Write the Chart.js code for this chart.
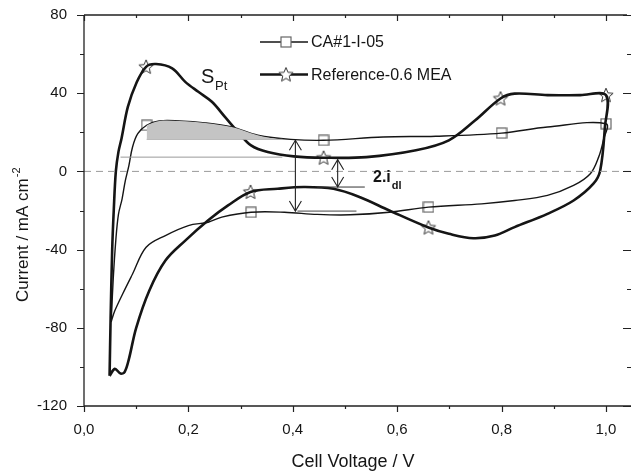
<!DOCTYPE html>
<html>
<head>
<meta charset="utf-8">
<script src="https://cdn.jsdelivr.net/npm/chart.js@4.4.1/dist/chart.umd.min.js"></script>
<style>
  html, body { margin: 0; padding: 0; background: #fff; }
  canvas { display: block; }
</style>
</head>
<body>
<canvas id="cv-chart" width="638" height="475"></canvas>
<script>
// Reference-0.6 MEA loop (anodic sweep then cathodic sweep)
const refV = [0.049, 0.051, 0.054, 0.057, 0.061, 0.066, 0.072, 0.084, 0.1, 0.119, 0.138, 0.169, 0.194, 0.219, 0.245, 0.27, 0.295, 0.32, 0.352, 0.402, 0.459, 0.541, 0.636, 0.699, 0.749, 0.798, 0.825, 0.888, 0.951, 1.0,
              0.998, 0.989, 0.976, 0.938, 0.888, 0.825, 0.787, 0.746, 0.699, 0.66, 0.585, 0.529, 0.478, 0.421, 0.371, 0.319, 0.276, 0.238, 0.194, 0.156, 0.125, 0.1, 0.086, 0.078, 0.07, 0.059, 0.049];
const refI = [-104.6, -75, -40, -20, 0, 10, 17, 33, 45, 53.5, 54.9, 52.7, 45.8, 40.7, 35.6, 27.9, 20.2, 13.3, 9.9, 7.7, 7.0, 7.3, 10.8, 15.9, 26, 37.3, 39.8, 39, 39, 39,
              22.7, 0.5, -6.3, -14.9, -21.7, -28.5, -32.8, -34.2, -31.9, -28.7, -20, -13.2, -8.9, -8, -8.9, -10.5, -17.4, -25, -35.4, -45.6, -61, -80, -96, -102.5, -103.4, -101, -104.6];

// CA#1-I-05 loop
const caV = [0.052, 0.056, 0.061, 0.066, 0.073, 0.079, 0.086, 0.093, 0.103, 0.12, 0.144, 0.182, 0.232, 0.283, 0.333, 0.396, 0.459, 0.573, 0.674, 0.8, 0.888, 1.0,
             0.995, 0.986, 0.97, 0.938, 0.888, 0.825, 0.762, 0.66, 0.585, 0.51, 0.447, 0.384, 0.32, 0.264, 0.238, 0.2, 0.156, 0.119, 0.093, 0.074, 0.059, 0.052];
const caI = [-77, -55, -35, -22, -14, -5, 3, 12.5, 19.3, 23.6, 25.8, 25.8, 24.8, 22.7, 18.5, 16.4, 15.9, 17.6, 18.0, 19.6, 22.7, 24.4,
             15.9, 7.3, -1.2, -7.2, -12.3, -14.9, -16.6, -18.3, -20.9, -22.2, -22, -20.9, -20.9, -23.4, -26, -27.7, -32.8, -38.8, -52.5, -62.7, -71.3, -77];

// marker positions
const refStarV = [0.119, 0.459, 0.798, 1.0, 0.66, 0.319];
const refStarI = [53.5, 7.0, 37.3, 39, -28.7, -10.5];
const caSquareV = [0.12, 0.459, 0.8, 1.0, 0.66, 0.32];
const caSquareI = [23.6, 15.9, 19.6, 24.4, -18.3, -20.9];

// shaded S_Pt area (CA anodic part above the baseline)
const shadeV = [0.12, 0.144, 0.182, 0.232, 0.283, 0.333, 0.371];
const shadeI = [23.6, 25.8, 25.8, 24.8, 22.7, 18.5, 16.4];
const shadeBase = 16.4;

// horizontal guide lines
const levelI = [16.4, 7.3, -20.3, -8];
const levelFrom = [0.12, 0.07, 0.409, 0.447];
const levelTo = [0.38, 0.38, 0.522, 0.538];
const levelColor = ['#aaa', '#999', '#444', '#333'];

// double arrows
const arrowV = [0.405, 0.486];
const arrowTop = [15.9, 6];
const arrowBottom = [-20.3, -8];

const xMin = 0, xMax = 1.048;
const yMin = -120, yMax = 80;

const FONT = '"Liberation Sans", Arial, sans-serif';
const INK = '#151515';

function toPts(vs, is) {
    return vs.map((v, k) => ({ x: v, y: is[k] }));
}

// five point star marker
function makeStar(r) {
    const c = document.createElement('canvas');
    const s = Math.ceil(r * 2 + 3);
    c.width = s; c.height = s;
    const g = c.getContext('2d');
    g.translate(s / 2, s / 2 + 0.5);
    g.beginPath();
    for (let k = 0; k < 10; k++) {
        const rad = k % 2 ? r * 0.45 : r;
        const a = -Math.PI / 2 + k * Math.PI / 5;
        g.lineTo(rad * Math.cos(a), rad * Math.sin(a));
    }
    g.closePath();
    g.fillStyle = '#fff';
    g.fill();
    g.lineWidth = 1;
    g.strokeStyle = '#333';
    g.stroke();
    return c;
}

function makeSquare(size) {
    const c = document.createElement('canvas');
    c.width = size + 2; c.height = size + 2;
    const g = c.getContext('2d');
    g.fillStyle = '#fff';
    g.fillRect(1, 1, size, size);
    g.lineWidth = 1.2;
    g.strokeStyle = '#666';
    g.strokeRect(1, 1, size, size);
    return c;
}

const starImg = makeStar(7.5);
const squareImg = makeSquare(10);

const datasets = [];

// shaded area
datasets.push({
    data: toPts(shadeV, shadeI),
    borderWidth: 0,
    borderColor: 'rgba(0,0,0,0)',
    backgroundColor: '#c4c4c4',
    fill: { value: shadeBase },
    pointRadius: 0,
    tension: 0.35
});

// guide lines
levelI.forEach((lv, k) => {
    datasets.push({
        data: [{ x: levelFrom[k], y: lv }, { x: levelTo[k], y: lv }],
        borderColor: levelColor[k],
        borderWidth: 1,
        pointRadius: 0,
        fill: false
    });
});

// zero line
datasets.push({
    data: [{ x: xMin, y: 0 }, { x: xMax, y: 0 }],
    borderColor: '#9a9a9a',
    borderWidth: 1,
    borderDash: [7, 5],
    pointRadius: 0,
    fill: false
});

// curves
datasets.push({
    data: toPts(caV, caI),
    borderColor: INK,
    borderWidth: 1.4,
    pointRadius: 0,
    tension: 0.35,
    fill: false
});
datasets.push({
    data: toPts(refV, refI),
    borderColor: INK,
    borderWidth: 2.6,
    pointRadius: 0,
    tension: 0.35,
    fill: false
});

// markers
datasets.push({
    data: toPts(caSquareV, caSquareI),
    showLine: false,
    pointStyle: squareImg,
    pointRadius: 6,
    fill: false
});
datasets.push({
    data: toPts(refStarV, refStarI),
    showLine: false,
    pointStyle: starImg,
    pointRadius: 6,
    fill: false
});

function arrowHead(ctx, x, y, dir) {
    ctx.beginPath();
    ctx.moveTo(x - 6, y + dir * 10);
    ctx.lineTo(x, y);
    ctx.lineTo(x + 6, y + dir * 10);
    ctx.stroke();
}

const decorPlugin = {
    id: 'decor',
    afterDraw(chart) {
        const ctx = chart.ctx;
        const a = chart.chartArea;
        const xs = chart.scales.x;
        const ys = chart.scales.y;
        ctx.save();

        // frame
        ctx.strokeStyle = '#222';
        ctx.lineWidth = 1.3;
        ctx.beginPath();
        ctx.moveTo(a.left, a.top);
        ctx.lineTo(a.left, a.bottom);
        ctx.lineTo(a.right, a.bottom);
        ctx.moveTo(a.left, a.top);
        ctx.lineTo(a.right - 4, a.top);
        ctx.stroke();

        // ticks on all four sides
        ctx.lineWidth = 1.2;
        ctx.beginPath();
        for (let k = 0; k <= 10; k++) {
            const px = Math.round(xs.getPixelForValue(k / 10)) + 0.5;
            const len = k % 2 === 0 ? 6 : 3;
            ctx.moveTo(px, a.bottom); ctx.lineTo(px, a.bottom + len);
            ctx.moveTo(px, a.top); ctx.lineTo(px, a.top + len);
        }
        for (let v = yMin; v <= yMax; v += 20) {
            const py = Math.round(ys.getPixelForValue(v)) + 0.5;
            const major = v % 40 === 0;
            ctx.moveTo(a.left, py); ctx.lineTo(a.left - (major ? 7 : 4), py);
            ctx.moveTo(a.right, py); ctx.lineTo(a.right - (major ? 8 : 4), py);
        }
        ctx.stroke();

        // axis titles
        ctx.fillStyle = INK;
        ctx.font = '18px ' + FONT;
        ctx.textAlign = 'center';
        ctx.textBaseline = 'alphabetic';
        ctx.fillText('Cell Voltage / V', 353, 467);

        ctx.save();
        ctx.translate(28, 302);
        ctx.rotate(-Math.PI / 2);
        ctx.textAlign = 'left';
        ctx.font = '17px ' + FONT;
        const t = 'Current / mA cm';
        ctx.fillText(t, 0, 0);
        const tw = ctx.measureText(t).width;
        ctx.font = '11px ' + FONT;
        ctx.fillText('-2', tw + 1, -8);
        ctx.restore();

        // double arrows
        ctx.strokeStyle = '#222';
        ctx.lineWidth = 1.1;
        arrowV.forEach((v, k) => {
            const px = xs.getPixelForValue(v);
            const top = ys.getPixelForValue(arrowTop[k]);
            const bot = ys.getPixelForValue(arrowBottom[k]);
            ctx.beginPath();
            ctx.moveTo(px, top);
            ctx.lineTo(px, bot);
            ctx.stroke();
            arrowHead(ctx, px, top, 1);
            arrowHead(ctx, px, bot, -1);
        });

        // labels
        ctx.fillStyle = INK;
        ctx.textAlign = 'left';
        ctx.font = '20px ' + FONT;
        ctx.fillText('S', 201, 83);
        ctx.font = '13px ' + FONT;
        ctx.fillText('Pt', 215, 90);

        ctx.font = 'bold 16px ' + FONT;
        ctx.fillText('2.i', 373, 182);
        const w2 = ctx.measureText('2.i').width;
        ctx.font = 'bold 11px ' + FONT;
        ctx.fillText('dl', 373 + w2 + 1, 189);

        // legend
        ctx.font = '16px ' + FONT;
        ctx.textBaseline = 'middle';
        ctx.strokeStyle = INK;
        ctx.lineWidth = 1.4;
        ctx.beginPath(); ctx.moveTo(260, 42); ctx.lineTo(308, 42); ctx.stroke();
        ctx.drawImage(squareImg, 286 - squareImg.width / 2, 42 - squareImg.height / 2);
        ctx.fillText('CA#1-I-05', 311, 43);
        ctx.lineWidth = 2.6;
        ctx.beginPath(); ctx.moveTo(260, 74.5); ctx.lineTo(308, 74.5); ctx.stroke();
        ctx.drawImage(starImg, 286 - starImg.width / 2, 74.5 - starImg.height / 2);
        ctx.fillText('Reference-0.6 MEA', 311, 75.5);

        ctx.restore();
    }
};

new Chart(document.getElementById('cv-chart'), {
    type: 'line',
    data: { datasets: datasets },
    options: {
        responsive: false,
        animation: false,
        layout: { padding: { left: 0, right: 0, top: 15, bottom: 0 } },
        plugins: {
            legend: { display: false },
            tooltip: { enabled: false }
        },
        scales: {
            x: {
                type: 'linear',
                min: xMin,
                max: xMax,
                grid: { display: false, drawTicks: false },
                border: { display: false },
                ticks: {
                    stepSize: 0.2,
                    includeBounds: false,
                    padding: 15,
                    color: INK,
                    font: { family: FONT, size: 15 },
                    callback: (v) => v.toFixed(1).replace('.', ',')
                },
                afterFit: (s) => { s.height = 69; s.paddingLeft = 0; s.paddingRight = 0; }
            },
            y: {
                min: yMin,
                max: yMax,
                grid: { display: false, drawTicks: false },
                border: { display: false },
                ticks: {
                    stepSize: 40,
                    padding: 17,
                    color: INK,
                    font: { family: FONT, size: 15 }
                },
                afterFit: (s) => { s.width = 84; s.paddingTop = 0; s.paddingBottom = 0; }
            }
        }
    },
    plugins: [decorPlugin]
});
</script>
</body>
</html>
